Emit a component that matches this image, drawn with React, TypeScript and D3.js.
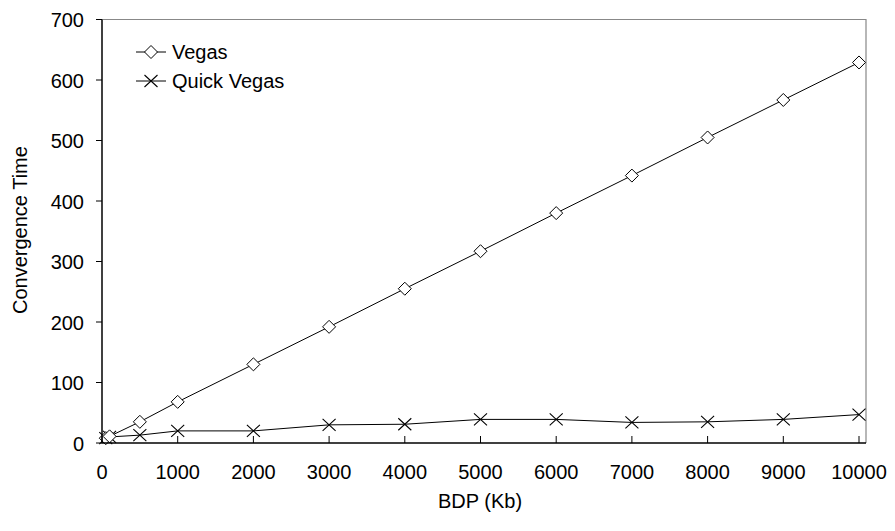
import * as d3 from "d3";

const bdp = [50, 100, 500, 1000, 2000, 3000, 4000, 5000, 6000, 7000, 8000, 9000, 10000];
const vegas = [8, 11, 35, 68, 130, 192, 255, 317, 380, 442, 505, 567, 629];
const quickVegas = [8, 10, 13, 20, 20, 30, 31, 39, 39, 34, 35, 39, 47];
const xTicks = [0, 1000, 2000, 3000, 4000, 5000, 6000, 7000, 8000, 9000, 10000];
const yTicks = [0, 100, 200, 300, 400, 500, 600, 700];

const W = 895;
const H = 531;
const font = "'Liberation Sans', Arial, sans-serif";
const fs = 20;

const x = d3.scaleLinear().domain([0, 10000]).range([102, 859]);
const y = d3.scaleLinear().domain([0, 700]).range([443, 19.5]);

const line = d3
  .line<number>()
  .x((_, i) => x(bdp[i]))
  .y((d) => y(d));

const Diamond = ({ cx, cy }: { cx: number; cy: number }) => (
  <path
    d={`M${cx},${cy - 6.5}L${cx + 6.5},${cy}L${cx},${cy + 6.5}L${cx - 6.5},${cy}Z`}
    fill="white"
    stroke="black"
    strokeWidth={1}
  />
);

const Cross = ({ cx, cy }: { cx: number; cy: number }) => (
  <path
    d={`M${cx - 6.5},${cy - 6}L${cx + 6.5},${cy + 6}M${cx - 6.5},${cy + 6}L${cx + 6.5},${cy - 6}`}
    stroke="black"
    strokeWidth={1.1}
    fill="none"
  />
);

export default function App() {
  return (
    <svg width={W} height={H} style={{ position: "absolute", left: 0, top: 0 }} fontFamily={font}>
      <rect width={W} height={H} fill="white" />
      {/* frame */}
      <path d={`M${x(0)},${y(700)}H866V${y(0)}`} fill="none" stroke="#888" strokeWidth={1.2} />
      {/* series */}
      <path d={line(quickVegas) ?? ""} fill="none" stroke="black" strokeWidth={1} />
      <path d={line(vegas) ?? ""} fill="none" stroke="black" strokeWidth={1} />
      {quickVegas.map((v, i) => (
        <Cross key={"q" + i} cx={x(bdp[i])} cy={y(v)} />
      ))}
      {vegas.map((v, i) => (
        <Diamond key={"v" + i} cx={x(bdp[i])} cy={y(v)} />
      ))}
      {/* axes */}
      <line x1={x(0) - 0.5} x2={866} y1={y(0)} y2={y(0)} stroke="black" strokeWidth={1.5} />
      <line x1={x(0)} x2={x(0)} y1={y(0)} y2={y(700)} stroke="black" strokeWidth={1.5} />
      {xTicks.map((t) => (
        <g key={"x" + t}>
          <line x1={x(t)} x2={x(t)} y1={y(0)} y2={y(0) - 7} stroke="black" strokeWidth={1} />
          <text x={x(t)} y={479} textAnchor="middle" fontSize={fs}>
            {t}
          </text>
        </g>
      ))}
      {yTicks.map((t) => (
        <g key={"y" + t}>
          <line x1={x(0) - 6} x2={x(0)} y1={y(t)} y2={y(t)} stroke="black" strokeWidth={1} />
          <text x={84} y={y(t) + 7.5} textAnchor="end" fontSize={fs}>
            {t}
          </text>
        </g>
      ))}
      <text x={480} y={508} textAnchor="middle" fontSize={fs}>
        BDP (Kb)
      </text>
      <text
        transform={`translate(27,${y(352)}) rotate(-90)`}
        textAnchor="middle"
        fontSize={fs}
      >
        Convergence Time
      </text>
      {/* legend */}
      <line x1={136} x2={166} y1={52} y2={52} stroke="black" strokeWidth={1} />
      <Diamond cx={151} cy={52} />
      <text x={172} y={59} fontSize={fs}>
        Vegas
      </text>
      <line x1={136} x2={166} y1={81} y2={81} stroke="black" strokeWidth={1} />
      <Cross cx={151} cy={81} />
      <text x={172} y={88} fontSize={fs}>
        Quick Vegas
      </text>
    </svg>
  );
}
